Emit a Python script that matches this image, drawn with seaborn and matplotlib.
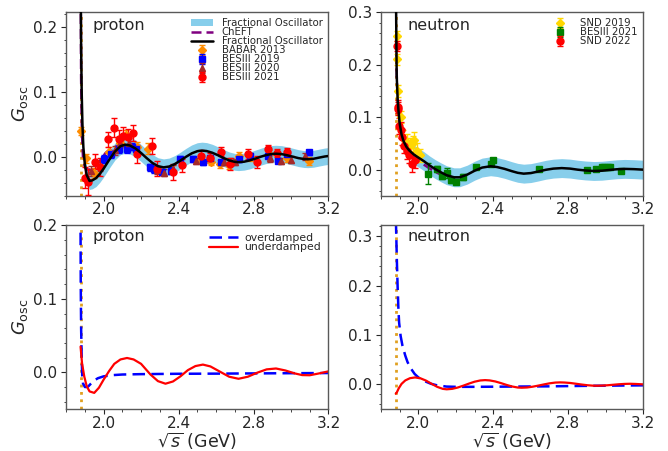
"""Oscillating part of the nucleon form factors, proton and neutron."""

import matplotlib

matplotlib.use("Agg")
import matplotlib.pyplot as plt
import numpy as np
import seaborn as sns
from matplotlib.lines import Line2D
from matplotlib.patches import Patch
from matplotlib.ticker import FormatStrFormatter, MultipleLocator

# thresholds 2m_p, 2m_n (GeV)
thr_p = 1.877
thr_n = 1.8796

# ---- proton, fractional oscillator fit ----
x_fo_p = [1.877, 1.878, 1.880, 1.883, 1.887, 1.892, 1.900, 1.910, 1.925, 1.940,
          1.960, 1.980, 2.000, 2.030, 2.060, 2.090, 2.115, 2.140, 2.170, 2.200,
          2.230, 2.260, 2.290, 2.320, 2.350, 2.380, 2.410, 2.440, 2.470, 2.500,
          2.525, 2.550, 2.580, 2.610, 2.640, 2.670, 2.700, 2.720, 2.750, 2.780,
          2.810, 2.840, 2.870, 2.900, 2.920, 2.950, 2.980, 3.010, 3.040, 3.070,
          3.090, 3.120, 3.150, 3.180, 3.200]
y_fo_p = [0.350, 0.260, 0.170, 0.100, 0.050, 0.015, -0.012, -0.028, -0.037, -0.036,
          -0.0325, -0.026, -0.018, -0.0044, 0.0082, 0.0166, 0.019, 0.0177, 0.0131, 0.0061,
          -0.0018, -0.0091, -0.0142, -0.016, -0.0147, -0.0109, -0.0056, 0.0003, 0.0055, 0.0089,
          0.0098, 0.0091, 0.0065, 0.0027, -0.0016, -0.0053, -0.0075, -0.008, -0.0073, -0.0053,
          -0.0025, 0.0005, 0.0031, 0.0047, 0.005, 0.0044, 0.0026, 0.0004, -0.0018, -0.0032,
          -0.0035, -0.0028, -0.001, 0.0007, 0.0015]
band_p = 0.013  # half width of the fit band
band_start_p = 1.90

x_cheft_p = [1.878, 1.880, 1.884, 1.890, 1.900, 1.920, 1.950, 1.980, 2.010, 2.040, 2.070]
y_cheft_p = [0.250, 0.120, 0.040, 0.000, -0.016, -0.020, -0.017, -0.006, 0.006, 0.013, 0.017]

# proton data
x_babar = [1.877, 1.905, 1.950, 2.030, 2.090, 2.120, 2.180, 2.235, 2.520, 2.575,
           2.620, 2.670, 2.720, 2.780, 2.880, 2.980, 3.095]
y_babar = [0.040, -0.002, -0.025, 0.008, 0.022, 0.034, 0.016, 0.013, -0.004, -0.007,
           -0.011, -0.013, 0.001, 0.000, 0.004, -0.002, -0.006]
e_babar = [0.006, 0.007, 0.008, 0.008, 0.008, 0.007, 0.007, 0.008, 0.006, 0.006,
           0.006, 0.006, 0.006, 0.006, 0.006, 0.006, 0.006]

x_bes19 = [2.000, 2.040, 2.080, 2.125, 2.150, 2.175, 2.250, 2.270, 2.310, 2.360, 2.410,
           2.475, 2.530, 2.570, 2.625, 2.720, 2.780, 2.875, 2.930, 2.980, 3.095]
y_bes19 = [-0.003, 0.004, 0.012, 0.012, 0.016, 0.012, -0.016, -0.019, -0.023, -0.021, -0.003,
           -0.003, -0.008, -0.002, -0.008, -0.003, 0.002, 0.002, -0.006, 0.004, 0.007]
e_bes19 = [0.006, 0.006, 0.006, 0.006, 0.006, 0.005, 0.005, 0.005, 0.005, 0.005, 0.005,
           0.004, 0.004, 0.004, 0.004, 0.004, 0.004, 0.004, 0.004, 0.004, 0.004]

x_bes20 = [1.935, 1.980, 2.060, 2.090, 2.135, 2.285, 2.320, 2.370, 2.495, 2.645,
           2.680, 2.700, 2.890, 2.945, 3.000, 3.075]
y_bes20 = [-0.022, -0.014, 0.010, 0.022, 0.022, -0.020, -0.024, -0.018, -0.006, -0.007,
           -0.007, -0.008, -0.002, -0.006, -0.004, 0.001]
e_bes20 = [0.008, 0.008, 0.007, 0.007, 0.007, 0.006, 0.006, 0.006, 0.005, 0.005,
           0.005, 0.005, 0.005, 0.005, 0.005, 0.005]

x_bes21 = [1.900, 1.915, 1.955, 1.980, 2.025, 2.055, 2.080, 2.105, 2.130, 2.155, 2.180, 2.260,
           2.285, 2.370, 2.420, 2.520, 2.570, 2.625, 2.675, 2.770, 2.820, 2.875, 2.925, 2.980]
y_bes21 = [-0.032, -0.039, -0.007, -0.016, 0.027, 0.045, 0.027, 0.033, 0.030, 0.037, 0.005, 0.017,
           -0.018, -0.023, -0.013, 0.002, -0.002, 0.008, -0.011, 0.005, -0.008, 0.012, 0.006, 0.008]
e_bes21 = [0.016, 0.020, 0.012, 0.014, 0.012, 0.015, 0.014, 0.013, 0.013, 0.012, 0.014, 0.012,
           0.012, 0.012, 0.010, 0.008, 0.008, 0.007, 0.009, 0.008, 0.009, 0.006, 0.006, 0.006]

# ---- neutron, fractional oscillator fit ----
x_fo_n = [1.879, 1.881, 1.884, 1.889, 1.893, 1.900, 1.910, 1.920, 1.935, 1.950,
          1.975, 2.000, 2.030, 2.060, 2.090, 2.120, 2.150, 2.190, 2.220, 2.260,
          2.300, 2.340, 2.385, 2.420, 2.460, 2.500, 2.530, 2.562, 2.600, 2.640,
          2.680, 2.720, 2.765, 2.810, 2.850, 2.890, 2.935, 2.980, 3.020, 3.060,
          3.100, 3.150, 3.200]
y_fo_n = [0.400, 0.300, 0.180, 0.135, 0.115, 0.088, 0.067, 0.055, 0.044, 0.037,
          0.029, 0.023, 0.016, 0.008, 0.001, -0.005, -0.0105, -0.0145, -0.0145, -0.0095,
          -0.002, 0.004, 0.0065, 0.005, 0.0015, -0.003, -0.006, -0.0076, -0.0065, -0.0035,
          -0.0002, 0.002, 0.003, 0.002, 0.000, -0.0015, -0.0025, -0.002, -0.0005, 0.0008,
          0.0015, 0.001, 0.000]
band_n = 0.018
band_start_n = 1.97

x_cheft_n = [1.881, 1.885, 1.890, 1.900, 1.920, 1.950, 1.980, 2.010, 2.040, 2.070,
             2.100, 2.130, 2.160, 2.190]
y_cheft_n = [0.250, 0.170, 0.130, 0.087, 0.053, 0.033, 0.022, 0.014, 0.007, 0.000,
             -0.006, -0.011, -0.015, -0.018]

# neutron data
x_snd19 = [1.884, 1.886, 1.892, 1.905, 1.920, 1.940, 1.955, 1.970, 1.979, 1.990, 2.010]
y_snd19 = [0.255, 0.210, 0.150, 0.100, 0.060, 0.053, 0.045, 0.050, 0.056, 0.035, 0.027]
e_snd19 = [0.010, 0.010, 0.012, 0.012, 0.015, 0.015, 0.015, 0.015, 0.015, 0.015, 0.012]

x_snd22 = [1.885, 1.889, 1.893, 1.898, 1.905, 1.915, 1.925, 1.940, 1.950, 1.965, 1.980]
y_snd22 = [0.236, 0.120, 0.116, 0.083, 0.075, 0.062, 0.046, 0.035, 0.027, 0.010, 0.018]
e_snd22 = [0.010, 0.012, 0.012, 0.015, 0.015, 0.015, 0.015, 0.015, 0.015, 0.015, 0.015]

x_bes21n = [2.053, 2.100, 2.124, 2.151, 2.173, 2.203, 2.238, 2.309, 2.385, 2.400,
            2.646, 2.900, 2.950, 2.980, 2.990, 3.010, 3.020, 3.080]
y_bes21n = [-0.008, 0.001, -0.012, -0.006, -0.020, -0.023, -0.014, 0.005, 0.011, 0.019,
            0.001, 0.000, 0.002, 0.006, 0.006, 0.006, 0.005, -0.002]
e_bes21n = [0.020, 0.006, 0.005, 0.010, 0.005, 0.005, 0.005, 0.004, 0.004, 0.004,
            0.003, 0.003, 0.003, 0.003, 0.003, 0.003, 0.003, 0.003]

# ---- bottom row: over/under damped components ----
x_over_p = [1.877, 1.878, 1.880, 1.883, 1.886, 1.890, 1.900, 1.915, 1.930, 1.950,
            1.970, 2.000, 2.050, 2.100, 2.200, 2.400, 2.600, 2.800, 3.000, 3.200]
y_over_p = [0.190, 0.120, 0.060, 0.020, -0.005, -0.015, -0.020, -0.020, -0.016, -0.011,
            -0.008, -0.0055, -0.0038, -0.003, -0.0025, -0.002, -0.0018, -0.0015, -0.0012, -0.001]

x_under_p = [1.877, 1.885, 1.897, 1.910, 1.925, 1.950, 1.975, 2.000, 2.030, 2.057,
             2.090, 2.125, 2.160, 2.200, 2.250, 2.290, 2.330, 2.370, 2.410, 2.450,
             2.490, 2.530, 2.570, 2.620, 2.670, 2.720, 2.770, 2.820, 2.870, 2.920,
             2.970, 3.020, 3.060, 3.100, 3.150, 3.200]
y_under_p = [0.035, 0.012, -0.006, -0.019, -0.026, -0.028, -0.021, -0.010, 0.002, 0.0115,
             0.0175, 0.0195, 0.0175, 0.0115, -0.003, -0.012, -0.0155, -0.0125, -0.0055, 0.003,
             0.0085, 0.0105, 0.008, 0.001, -0.006, -0.0088, -0.006, -0.0005, 0.004, 0.0052,
             0.0025, -0.0015, -0.0038, -0.004, -0.0015, 0.0013]

x_over_n = [1.880, 1.885, 1.889, 1.893, 1.897, 1.905, 1.915, 1.930, 1.942, 1.960, 1.980,
            2.000, 2.030, 2.066, 2.100, 2.150, 2.200, 2.300, 2.500, 2.700, 2.900, 3.200]
y_over_n = [0.330, 0.250, 0.198, 0.155, 0.125, 0.098, 0.078, 0.058, 0.045, 0.032, 0.021,
            0.014, 0.007, 0.0013, -0.002, -0.0045, -0.005, -0.005, -0.0045, -0.004, -0.003, -0.002]

x_under_n = [1.879, 1.885, 1.895, 1.910, 1.930, 1.955, 1.982, 2.010, 2.040, 2.070,
             2.100, 2.130, 2.151, 2.180, 2.210, 2.240, 2.270, 2.300, 2.330, 2.356,
             2.380, 2.410, 2.440, 2.470, 2.500, 2.530, 2.551, 2.580, 2.610, 2.640,
             2.670, 2.700, 2.730, 2.756, 2.780, 2.810, 2.840, 2.870, 2.900, 2.930,
             2.951, 2.980, 3.010, 3.040, 3.070, 3.100, 3.129, 3.160, 3.200]
y_under_n = [-0.019, -0.016, -0.008, 0.001, 0.008, 0.0125, 0.014, 0.0124, 0.0077, 0.0012,
             -0.005, -0.0091, -0.010, -0.0091, -0.0064, -0.0026, 0.0016, 0.0054, 0.0079, 0.0086,
             0.008, 0.0059, 0.0026, -0.0011, -0.0043, -0.0064, -0.0068, -0.0063, -0.0047, -0.0025,
             -0.0001, 0.0021, 0.0036, 0.004, 0.0037, 0.0028, 0.0013, -0.0003, -0.0017, -0.0026,
             -0.0028, -0.0025, -0.0018, -0.0008, 0.0002, 0.0009, 0.0012, 0.0008, 0.0]

sns.set_style("ticks")
plt.rcParams["font.family"] = ["DejaVu Sans"]
plt.rcParams.update({
    "xtick.labelsize": 11,
    "ytick.labelsize": 11,
    "xtick.major.size": 3.5,
    "ytick.major.size": 3.5,
    "xtick.minor.size": 1.8,
    "ytick.minor.size": 1.8,
    "xtick.major.pad": 1.2,
    "ytick.major.pad": 3,
    "axes.edgecolor": "0.35",
    "axes.linewidth": 1.0,
})

fig, axes = plt.subplots(2, 2, figsize=(6.68, 4.51), dpi=100)
fig.subplots_adjust(left=0.099, right=0.963, top=0.973, bottom=0.093,
                    wspace=0.2, hspace=0.16)
(ax_p, ax_n), (ax_pd, ax_nd) = axes

thr_color = "#E0A020"
band_color = "#87CEEB"


def draw_fit(ax, x_fo, y_fo, band, band_start, x_ch, y_ch):
    x = np.array(x_fo)
    y = np.array(y_fo)
    m = x >= band_start
    ax.fill_between(x[m], y[m] - band, y[m] + band, color=band_color, lw=0, zorder=1)
    sns.lineplot(x=x_ch, y=y_ch, ax=ax, color="purple", lw=1.8, zorder=2)
    ax.lines[-1].set_dashes([4, 2])


def data(ax, x, y, e, color, marker, label, ms=5):
    return ax.errorbar(x, y, yerr=e, fmt=marker, color=color, ms=ms, capsize=2,
                       elinewidth=1, label=label, zorder=3)


# proton top
draw_fit(ax_p, x_fo_p, y_fo_p, band_p, band_start_p, x_cheft_p, y_cheft_p)
h_babar = data(ax_p, x_babar, y_babar, e_babar, "darkorange", "D", "BABAR 2013", ms=4.5)
h_b19 = data(ax_p, x_bes19, y_bes19, e_bes19, "blue", "s", "BESIII 2019")
h_b20 = data(ax_p, x_bes20, y_bes20, e_bes20, "brown", "^", "BESIII 2020")
h_b21 = data(ax_p, x_bes21, y_bes21, e_bes21, "red", "o", "BESIII 2021")
sns.lineplot(x=x_fo_p, y=y_fo_p, ax=ax_p, color="black", lw=1.8, zorder=4)
ax_p.axvline(thr_p, color=thr_color, ls=":", lw=2, zorder=0)
handles = [Patch(color=band_color, lw=0),
           Line2D([], [], color="purple", lw=1.8, dashes=[4, 2]),
           Line2D([], [], color="black", lw=1.8),
           h_babar, h_b19, h_b20, h_b21]
labels = ["Fractional Oscillator", "ChEFT", "Fractional Oscillator",
          "BABAR 2013", "BESIII 2019", "BESIII 2020", "BESIII 2021"]
ax_p.legend(handles, labels, loc="upper right", fontsize=7.3, frameon=False,
            labelspacing=-0.1, handlelength=2.2, borderaxespad=0.2, handletextpad=0.8)

# neutron top
draw_fit(ax_n, x_fo_n, y_fo_n, band_n, band_start_n, x_cheft_n, y_cheft_n)
h_s19 = data(ax_n, x_snd19, y_snd19, e_snd19, "gold", "D", "SND 2019", ms=4.5)
h_bn = data(ax_n, x_bes21n, y_bes21n, e_bes21n, "green", "s", "BESIII 2021")
h_s22 = data(ax_n, x_snd22, y_snd22, e_snd22, "red", "o", "SND 2022")
sns.lineplot(x=x_fo_n, y=y_fo_n, ax=ax_n, color="black", lw=1.8, zorder=4)
ax_n.axvline(thr_n, color=thr_color, ls=":", lw=2, zorder=0)
ax_n.legend([h_s19, h_bn, h_s22], ["SND 2019", "BESIII 2021", "SND 2022"],
            loc="upper right", fontsize=7.3, frameon=False, labelspacing=-0.1,
            handlelength=2.2, borderaxespad=0.2, handletextpad=0.8)

# bottom row
for ax, xo, yo, xu, yu, thr in [(ax_pd, x_over_p, y_over_p, x_under_p, y_under_p, thr_p),
                                (ax_nd, x_over_n, y_over_n, x_under_n, y_under_n, thr_n)]:
    ax.axvline(thr, color=thr_color, ls=":", lw=2, zorder=0)
    sns.lineplot(x=xo, y=yo, ax=ax, color="blue", lw=1.8, label="overdamped")
    ax.lines[-1].set_dashes([5, 2.5])
    sns.lineplot(x=xu, y=yu, ax=ax, color="red", lw=1.6, label="underdamped")
ax_pd.legend(loc="upper right", fontsize=7.8, frameon=False, labelspacing=-0.05,
             handlelength=2.6, borderaxespad=0.3, handletextpad=0.6)
ax_nd.get_legend().remove()

for ax, name, ty in [(ax_p, "proton", 0.93), (ax_n, "neutron", 0.93),
                     (ax_pd, "proton", 0.94), (ax_nd, "neutron", 0.94)]:
    ax.text(0.1, ty, name, transform=ax.transAxes, va="center", fontsize=11.5)
    ax.set_xlim(1.8, 3.2)
    ax.xaxis.set_major_locator(MultipleLocator(0.4))
    ax.xaxis.set_minor_locator(MultipleLocator(0.1))
    ax.yaxis.set_major_locator(MultipleLocator(0.1))
    ax.yaxis.set_minor_locator(MultipleLocator(0.02))
    ax.xaxis.set_major_formatter(FormatStrFormatter("%.1f"))
    ax.yaxis.set_major_formatter(FormatStrFormatter("%.1f"))
    ax.set_xlabel("")
    ax.set_ylabel("")

ax_p.set_ylim(-0.06, 0.223)
ax_n.set_ylim(-0.05, 0.30)
ax_pd.set_ylim(-0.05, 0.20)
ax_nd.set_ylim(-0.05, 0.322)

for ax in (ax_p, ax_pd):
    ax.set_ylabel(r"$G_{\rm osc}$", fontsize=13, labelpad=2)
for ax in (ax_pd, ax_nd):
    ax.set_xlabel(r"$\sqrt{s}$ (GeV)", fontsize=12.5, labelpad=0)

fig.savefig("out.png", dpi=100)
